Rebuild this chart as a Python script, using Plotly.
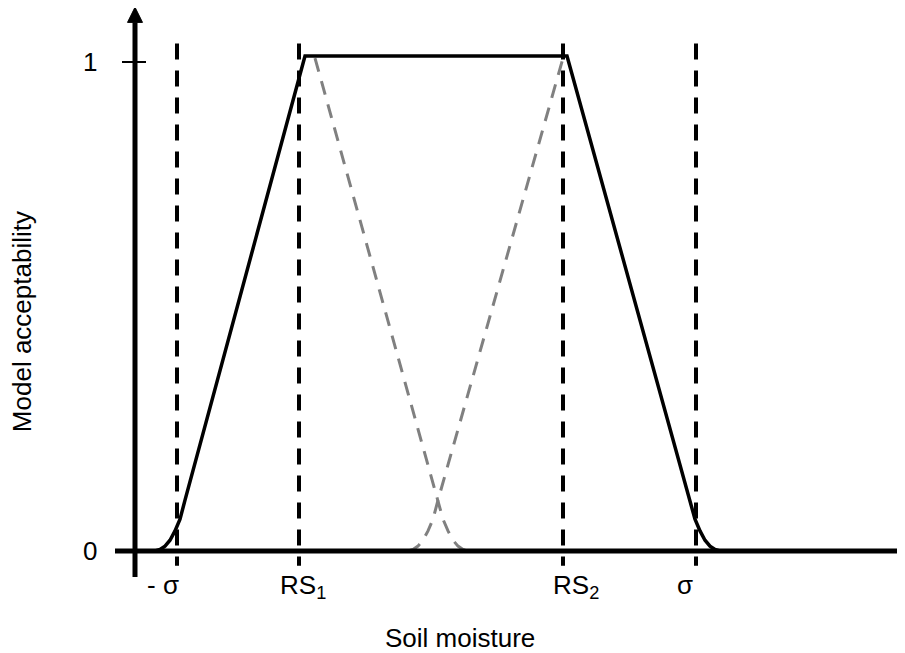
import plotly.graph_objects as go

# ---- data (abstract units: x = soil moisture, y = acceptability) ----
# solid black acceptability curve
accept_x = [2.0, 2.5, 3.0, 3.5, 4.0, 4.5, 5.0, 17.0, 43.2, 55.5, 56.0, 56.5, 57.0, 57.5, 58.0, 58.5]
accept_y = [0.0, 0.003, 0.010, 0.022, 0.041, 0.065, 0.104, 1.012, 1.012, 0.104, 0.065, 0.041, 0.022, 0.010, 0.003, 0.0]
# grey dashed descending curve (from RS1)
grey_down_x = [18.0, 30.3, 30.8, 31.3, 31.8, 32.3, 32.8, 33.3]
grey_down_y = [1.008, 0.104, 0.065, 0.041, 0.022, 0.010, 0.003, 0.0]
# grey dashed ascending curve (to RS2)
grey_up_x = [27.3, 27.8, 28.3, 28.8, 29.3, 29.8, 30.3, 42.8]
grey_up_y = [0.0, 0.003, 0.010, 0.022, 0.041, 0.065, 0.104, 1.008]
# reference markers on the x axis
marker_x = [4.2, 16.4, 42.8, 56.1]
marker_labels = ["- σ", "RS<sub>1</sub>", "RS<sub>2</sub>", "σ"]
marker_label_x = [2.8, 16.8, 44.1, 55.0]
y_tick_vals = [0, 1]
y_tick_labels = ["0", "1"]

# axis extents (data units)
X_MIN, X_MAX = -2.0, 77.0
Y_MIN, Y_MAX = -0.053, 1.112

FONT = "Liberation Sans, Arial, Helvetica, sans-serif"
FS = 26

fig = go.Figure()

fig.add_trace(go.Scatter(x=grey_down_x, y=grey_down_y, mode="lines",
                         line=dict(color="#808080", width=3, dash="14px,10px"),
                         hoverinfo="skip", showlegend=False))
fig.add_trace(go.Scatter(x=grey_up_x, y=grey_up_y, mode="lines",
                         line=dict(color="#808080", width=3, dash="14px,10px"),
                         hoverinfo="skip", showlegend=False))

# vertical dashed marker lines
for mx in marker_x:
    fig.add_trace(go.Scatter(x=[mx, mx], y=[1.038, -0.03], mode="lines",
                             line=dict(color="black", width=4, dash="16px,11px"),
                             hoverinfo="skip", showlegend=False))

fig.add_trace(go.Scatter(x=accept_x, y=accept_y, mode="lines",
                         line=dict(color="black", width=3.5),
                         hoverinfo="skip", showlegend=False))

# axes drawn as shapes with arrowheads
head_y = 0.031   # arrowhead length on y axis (data units)
head_x = 1.2     # arrowhead length on x axis (data units)
shapes = [
    dict(type="line", xref="x", yref="y", x0=0, x1=0, y0=Y_MIN, y1=Y_MAX - head_y,
         line=dict(color="black", width=5)),
    dict(type="path", xref="x", yref="y",
         path=f"M -0.75 {Y_MAX - head_y} L 0.75 {Y_MAX - head_y} L 0 {Y_MAX} Z",
         fillcolor="black", line=dict(color="black", width=1)),
    dict(type="line", xref="x", yref="y", x0=X_MIN, x1=X_MAX - 0.4, y0=0, y1=0,
         line=dict(color="black", width=5)),
    dict(type="path", xref="x", yref="y",
         path=f"M {X_MAX - 0.5} -0.0155 L {X_MAX - 0.5} 0.0155 L {X_MAX - 0.5 + head_x} 0 Z",
         fillcolor="black", line=dict(color="black", width=1)),
    dict(type="line", xref="x", yref="y", x0=-1.3, x1=1.1, y0=1, y1=1,
         line=dict(color="black", width=2)),
]

annotations = []
# y tick labels
for v, t in zip(y_tick_vals, y_tick_labels):
    annotations.append(dict(x=-3.6, y=v, xref="x", yref="y", text=t, showarrow=False,
                            xanchor="right", yanchor="middle",
                            font=dict(family=FONT, size=FS, color="black")))

# marker labels
for lx, t in zip(marker_label_x, marker_labels):
    annotations.append(dict(x=lx, y=-0.035, xref="x", yref="y", text=t, showarrow=False,
                            xanchor="center", yanchor="top",
                            font=dict(family=FONT, size=FS, color="black")))

# axis titles
annotations.append(dict(x=32.5, y=-0.178, xref="x", yref="y", text="Soil moisture",
                        showarrow=False, xanchor="center", yanchor="middle",
                        font=dict(family=FONT, size=FS, color="black")))
annotations.append(dict(x=-11.3, y=0.468, xref="x", yref="y", text="Model acceptability",
                        showarrow=False, xanchor="center", yanchor="middle", textangle=-90,
                        font=dict(family=FONT, size=FS, color="black")))

# the page adds an 8px body margin, so the figure is 8px smaller and ranges start at page px 8
fig.update_layout(
    width=897, height=645,
    margin=dict(l=0, r=0, t=0, b=0),
    paper_bgcolor="white", plot_bgcolor="white",
    xaxis=dict(range=[-12.7, 77.0], visible=False, fixedrange=True),
    yaxis=dict(range=[-0.2086, 1.1104], visible=False, fixedrange=True),
    annotations=annotations, shapes=shapes,
    showlegend=False,
)

fig.write_html("out.html")
